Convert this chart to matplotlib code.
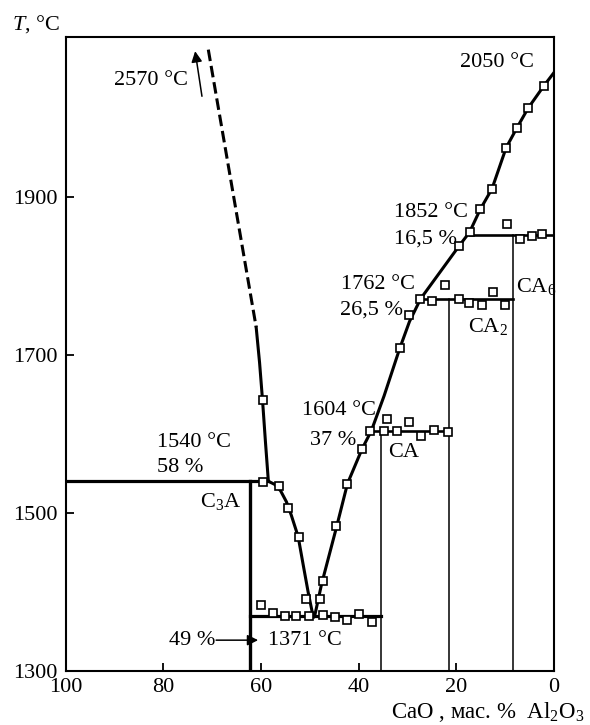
import matplotlib
matplotlib.use("Agg")
import matplotlib.pyplot as plt

plt.rcParams.update({
    'font.family': ['Liberation Serif', 'DejaVu Serif'],
    'font.size': 16,
    'mathtext.fontset': 'custom',
    'mathtext.rm': 'Liberation Serif',
    'mathtext.it': 'Liberation Serif:italic',
    'axes.linewidth': 1.5,
})

# ── data (CaO mass %, T in °C) ──────────────────────────────
# liquidus, CaO-rich side (dashed extrapolation + solid part)
liq_dash_x = [70.8, 61.0]
liq_dash_t = [2086, 1735]
liq_top_x = [61.0, 60.3, 59.7, 59.1, 58.5]
liq_top_t = [1735, 1690, 1643, 1590, 1540]
# liquidus, from 1540 °C down to the eutectic
liq_left_x = [58.5, 57.2, 56.0, 54.8, 53.8, 52.4, 51.3, 50.3, 49.3]
liq_left_t = [1540, 1536, 1528, 1514, 1497, 1470, 1432, 1398, 1368]
# liquidus, Al2O3-rich side
liq_right_x = [49.0, 47.6, 44.5, 42.3, 39.3, 37.4, 34.8, 31.6, 29.6,
               27.3, 19.4, 17.3, 15.1, 12.7, 9.8, 7.6, 5.3, 2.1, 0.0]
liq_right_t = [1370, 1410, 1483, 1537, 1581, 1604, 1648, 1708, 1742,
               1771, 1838, 1855, 1884, 1910, 1962, 1987, 2012, 2040, 2057]

# invariant horizontals: (x_from, x_to, T)
iso_1540 = (100.0, 58.5, 1540)
iso_1371 = (62.2, 35.5, 1370)
iso_1604 = (37.5, 21.5, 1604)
iso_1762 = (27.4, 8.3, 1770)
iso_1852 = (17.3, 0.0, 1852)

# compounds (vertical lines): composition, top temperature
c3a = (62.2, 1540)
ca = (35.5, 1604)
ca2 = (21.5, 1770)
ca6 = (8.3, 1852)

# experimental points
pts_x = [59.7, 59.7, 56.4, 54.4, 52.2, 50.8, 47.9, 47.4, 44.6, 42.4,
         60.0, 57.5, 55.1, 52.8, 50.1, 47.4, 44.8, 42.4, 39.9, 37.3,
         39.3, 37.6, 34.8, 34.3, 32.2, 29.6, 27.3, 24.5, 21.7, 31.6,
         29.8, 27.5, 24.9, 22.3, 19.4, 17.4, 14.8, 12.5, 10.0,
         19.4, 17.3, 15.1, 9.6, 6.9, 4.6, 2.4,
         12.7, 9.8, 7.6, 5.3, 2.1]
pts_t = [1643, 1539, 1534, 1506, 1469, 1391, 1391, 1414, 1484, 1537,
         1384, 1373, 1370, 1370, 1370, 1371, 1368, 1364, 1372, 1362,
         1581, 1604, 1604, 1619, 1603, 1615, 1597, 1605, 1602, 1708,
         1750, 1771, 1768, 1788, 1771, 1765, 1763, 1779, 1763,
         1838, 1855, 1884, 1866, 1846, 1850, 1853,
         1910, 1962, 1987, 2012, 2040]

x_ticks = [100, 80, 60, 40, 20, 0]
y_ticks = [1300, 1500, 1700, 1900]

fig = plt.figure(figsize=(5.9, 7.25), dpi=100)
ax = fig.add_axes([0.1114, 0.0745, 0.8276, 0.8745])
ax.set_xlim(100, 0)
ax.set_ylim(1300, 2102)

K = 'black'
# liquidus
ax.plot(liq_dash_x, liq_dash_t, color=K, lw=2.2, ls=(0, (3.8, 1.6)))
ax.plot(liq_top_x, liq_top_t, color=K, lw=2.2)
ax.plot(liq_left_x, liq_left_t, color=K, lw=2.2)
ax.plot(liq_right_x, liq_right_t, color=K, lw=2.2)

# horizontals
for x0, x1, t in [iso_1540, iso_1371]:
    ax.plot([x0, x1], [t, t], color=K, lw=2.3)
for x0, x1, t in [iso_1604, iso_1762, iso_1852]:
    ax.plot([x0, x1], [t, t], color=K, lw=1.9)

# compound lines
ax.plot([c3a[0], c3a[0]], [1300, c3a[1]], color=K, lw=2.4)
for xc, tc in [ca, ca2, ca6]:
    ax.plot([xc, xc], [1300, tc], color=K, lw=1.1)

ax.plot(pts_x, pts_t, ls='none', marker='s', ms=6.2, mfc='white',
        mec=K, mew=1.2, zorder=5)

# arrows
ax.annotate('', xy=(73.5, 2084), xytext=(72.1, 2027),
            arrowprops=dict(arrowstyle='-|>', lw=1.1, color=K,
                            mutation_scale=16, shrinkA=0, shrinkB=0))
ax.annotate('', xy=(60.6, 1339), xytext=(69.2, 1339),
            arrowprops=dict(arrowstyle='-|>', lw=1.1, color=K,
                            mutation_scale=16, shrinkA=0, shrinkB=0))

# annotations
ax.text(74.9, 2047, '2570 °C', ha='right', va='center')
ax.text(4.0, 2070, '2050 °C', ha='right', va='center')
ax.text(32.7, 1880, '1852 °C', ha='left', va='center')
ax.text(32.7, 1847, '16,5 %', ha='left', va='center')
ax.text(43.6, 1789, '1762 °C', ha='left', va='center')
ax.text(43.9, 1756, '26,5 %', ha='left', va='center')
ax.text(51.6, 1629, '1604 °C', ha='left', va='center')
ax.text(49.9, 1592, '37 %', ha='left', va='center')
ax.text(81.4, 1589, '1540 °C', ha='left', va='center')
ax.text(81.4, 1558, '58 %', ha='left', va='center')
ax.text(68.2, 1514, 'C$_3$A', ha='center', va='center')
ax.text(69.4, 1339, '49 %', ha='right', va='center')
ax.text(58.5, 1339, '1371 °C', ha='left', va='center')
ax.text(30.9, 1576, 'CA', ha='center', va='center')
ax.text(13.5, 1736, 'CA$_2$', ha='center', va='center')
ax.text(7.7, 1786, 'CA$_6$', ha='left', va='center')

ax.set_xticks(x_ticks)
ax.set_yticks(y_ticks)
ax.tick_params(direction='in', length=6, width=1.3, pad=6)
ax.tick_params(axis='x', pad=5)

fig.text(0.021, 0.967, '$T$, °C', ha='left', va='center')
fig.text(0.662, 0.018, 'CaO , мас. %  Al$_2$O$_3$', ha='left', va='center',
         fontsize=16.5)

fig.savefig('out.png', dpi=100)
